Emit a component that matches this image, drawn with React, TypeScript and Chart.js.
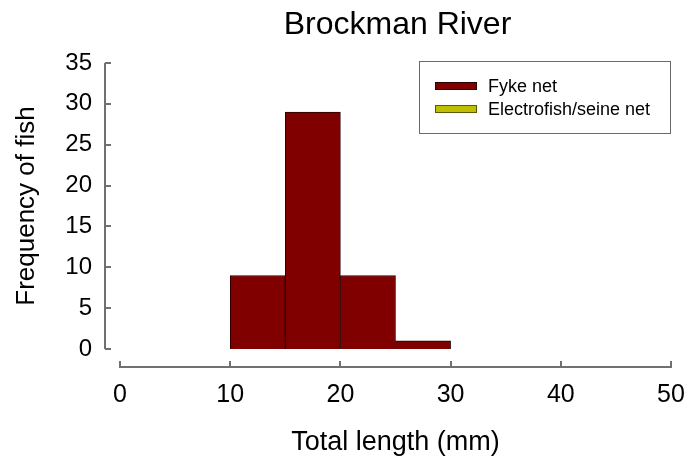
import { useEffect, useRef } from "react";
import { Chart, registerables } from "chart.js";

Chart.register(...registerables);

// Histogram of total length for fish caught in the Brockman River
const chartTitle = "Brockman River";
const xAxisTitle = "Total length (mm)";
const yAxisTitle = "Frequency of fish";
const seriesNames = ["Fyke net", "Electrofish/seine net"];
const seriesColors = ["#800000", "#bfbf00"];
const seriesBorders = ["#2a0000", "#5a5a00"];

const binStarts = [10, 15, 20, 25];
const binWidth = 5;
const fykeNetCounts = [9, 29, 9, 1];
const electrofishCounts: number[] = [];

const xTickValues = [0, 10, 20, 30, 40, 50];
const yTickValues = [0, 5, 10, 15, 20, 25, 30, 35];

const FONT = "'Liberation Sans', Arial, Helvetica, sans-serif";
const AXIS_COLOR = "#707070";

const toPoints = (counts: number[]) =>
  counts.map((count, i) => ({ x: binStarts[i] + binWidth / 2, y: count }));

// Axes are drawn offset from the plot area, with inward tick marks
const detachedAxes = {
  id: "detachedAxes",
  afterDraw(chart: any) {
    const { ctx, chartArea } = chart;
    const xs = chart.scales.x;
    const ys = chart.scales.y;
    const yAxisX = Math.round(chartArea.left - 15);
    const xAxisY = Math.round(chartArea.bottom + 18);
    ctx.save();
    ctx.strokeStyle = AXIS_COLOR;
    ctx.lineWidth = 2;
    ctx.beginPath();
    ctx.moveTo(yAxisX, ys.getPixelForValue(ys.max));
    ctx.lineTo(yAxisX, ys.getPixelForValue(ys.min));
    ys.ticks.forEach((t: any) => {
      const py = Math.round(ys.getPixelForValue(t.value));
      ctx.moveTo(yAxisX, py);
      ctx.lineTo(yAxisX + 6, py);
    });
    ctx.moveTo(xs.getPixelForValue(xs.min) - 1, xAxisY);
    ctx.lineTo(xs.getPixelForValue(xs.max) + 1, xAxisY);
    xs.ticks.forEach((t: any) => {
      const px = Math.round(xs.getPixelForValue(t.value));
      ctx.moveTo(px, xAxisY);
      ctx.lineTo(px, xAxisY - 6);
    });
    ctx.stroke();
    ctx.restore();
  },
};

// Title centred over the plot area
const plotTitle = {
  id: "plotTitle",
  afterDraw(chart: any) {
    const { ctx, chartArea } = chart;
    ctx.save();
    ctx.fillStyle = "#000";
    ctx.font = `32px ${FONT}`;
    ctx.textAlign = "center";
    ctx.textBaseline = "middle";
    ctx.fillText(chartTitle, (chartArea.left + chartArea.right) / 2 + 2, 25);
    ctx.restore();
  },
};

// Boxed legend in the top-right corner
const boxedLegend = {
  id: "boxedLegend",
  afterDraw(chart: any) {
    const { ctx } = chart;
    const box = { left: 419.5, top: 61.5, right: 670.5, bottom: 133.5 };
    ctx.save();
    ctx.fillStyle = "#fff";
    ctx.fillRect(box.left, box.top, box.right - box.left, box.bottom - box.top);
    ctx.strokeStyle = "#6a6a6a";
    ctx.lineWidth = 1;
    ctx.strokeRect(box.left, box.top, box.right - box.left, box.bottom - box.top);
    ctx.font = `18px ${FONT}`;
    ctx.textBaseline = "middle";
    ctx.textAlign = "left";
    chart.data.datasets.forEach((ds: any, i: number) => {
      const rowY = 86 + i * 23;
      ctx.fillStyle = ds.backgroundColor;
      ctx.fillRect(435, rowY - 4, 42, 8);
      ctx.strokeStyle = ds.borderColor;
      ctx.strokeRect(435.5, rowY - 3.5, 41, 7);
      ctx.fillStyle = "#000";
      ctx.fillText(ds.label, 488, rowY + 1);
    });
    ctx.restore();
  },
};

export default function App() {
  const canvasRef = useRef<HTMLCanvasElement | null>(null);

  useEffect(() => {
    if (!canvasRef.current) return;
    const chart = new Chart(canvasRef.current, {
      type: "bar",
      data: {
        datasets: [
          {
            label: seriesNames[0],
            data: toPoints(fykeNetCounts),
            backgroundColor: seriesColors[0],
            borderColor: seriesBorders[0],
            borderWidth: 1,
            barPercentage: 1,
            categoryPercentage: 1,
            grouped: false,
          } as any,
          {
            label: seriesNames[1],
            data: toPoints(electrofishCounts),
            backgroundColor: seriesColors[1],
            borderColor: seriesBorders[1],
            borderWidth: 1,
            barPercentage: 1,
            categoryPercentage: 1,
            grouped: false,
          } as any,
        ],
      },
      options: {
        animation: false,
        responsive: false,
        layout: { padding: { top: 63, right: 18, bottom: 0, left: 0 } },
        plugins: {
          legend: { display: false },
          title: { display: false },
          tooltip: { enabled: false },
        },
        scales: {
          x: {
            type: "linear",
            min: xTickValues[0],
            max: xTickValues[xTickValues.length - 1],
            offset: false,
            grid: { display: false, drawTicks: true, tickLength: 28, offset: false },
            border: { display: false },
            afterBuildTicks: (scale: any) => {
              scale.ticks = xTickValues.map((v) => ({ value: v }));
            },
            afterFit: (scale: any) => {
              scale.height = 113;
            },
            ticks: {
              color: "#000",
              padding: 3,
              maxRotation: 0,
              font: { family: FONT, size: 25 },
            },
            title: {
              display: true,
              text: xAxisTitle,
              color: "#000",
              padding: { top: 0, bottom: 3 },
              font: { family: FONT, size: 27 },
            },
          },
          y: {
            type: "linear",
            min: yTickValues[0],
            max: yTickValues[yTickValues.length - 1],
            grid: { display: false, drawTicks: true, tickLength: 25 },
            border: { display: false },
            afterBuildTicks: (scale: any) => {
              scale.ticks = yTickValues.map((v) => ({ value: v }));
            },
            afterFit: (scale: any) => {
              scale.width = 120;
            },
            ticks: {
              color: "#000",
              padding: 3,
              font: { family: FONT, size: 24 },
            },
            title: {
              display: true,
              text: yAxisTitle,
              color: "#000",
              padding: { top: 11, bottom: 0 },
              font: { family: FONT, size: 26 },
            },
          },
        },
      },
      plugins: [detachedAxes, plotTitle, boxedLegend],
    });
    return () => chart.destroy();
  }, []);

  return (
    <div style={{ position: "fixed", left: 0, top: 0, width: 689, height: 462, background: "#fff" }}>
      <canvas ref={canvasRef} width={689} height={462} />
    </div>
  );
}
